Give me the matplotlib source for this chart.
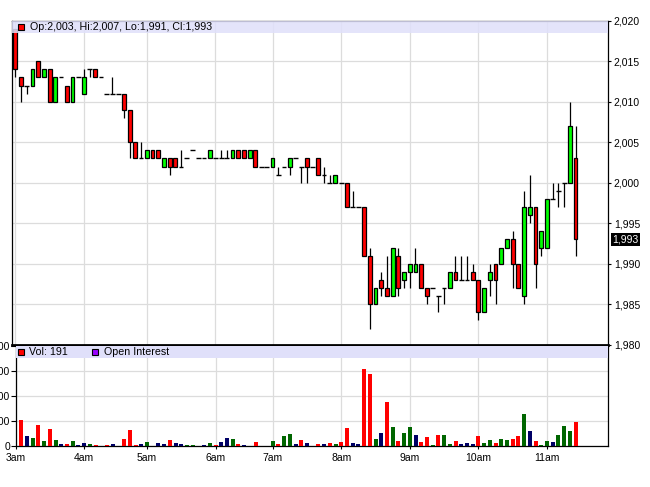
import matplotlib
matplotlib.use("Agg")
import matplotlib.pyplot as plt
from matplotlib.patches import Rectangle
from matplotlib.ticker import FuncFormatter

plt.rcParams['font.family'] = ['Liberation Sans', 'DejaVu Sans']

# 5 minute bars from 3am to 11:25am (a few slots have no trade)
opens = [2019, 2013, 2012, 2012, 2015, 2013, 2014, 2010, 2013, 2012,
         2010, 2013, 2011, 2014, 2014, 2013, 2011, 2011, 2011, 2011,
         2009, 2005, 2003, 2003, 2004, 2004, 2002, 2003, 2003, 2002,
         2003, 2004, 2003, 2003, 2003, 2003, 2003, 2003, 2003, 2004,
         2004, 2003, 2004, 2002, 2002, 2002, 2001, 2002, 2002, 2003,
         2002, 2003, 2002, 2003, 2001, 2000, 2000, 2000, 2000, 1997,
         1997, 1997, 1991, 1985, 1988, 1987, 1986, 1991, 1988, 1989,
         1989, 1990, 1987, 1987, 1986, 1987, 1987, 1989, 1988, 1988,
         1989, 1988, 1984, 1988, 1990, 1990, 1992, 1993, 1990, 1986,
         1996, 1997, 1992, 1992, 1998, 1999, 2000, 2000, 2003]
highs = [2019, 2013, 2012, 2014, 2015, 2014, 2014, 2013, 2013, 2012,
         2013, 2013, 2014, 2014, 2014, 2013, 2011, 2013, 2011, 2011,
         2009, 2005, 2005, 2004, 2004, 2004, 2003, 2003, 2003, 2004,
         2003, 2004, 2003, 2003, 2004, 2003, 2004, 2004, 2004, 2004,
         2004, 2004, 2004, 2002, 2002, 2003, 2002, 2002, 2003, 2003,
         2002, 2003, 2002, 2003, 2002, 2001, 2001, 2000, 2000, 1999,
         1997, 1997, 1992, 1987, 1989, 1991, 1992, 1992, 1989, 1990,
         1992, 1990, 1987, 1987, 1986, 1987, 1989, 1991, 1991, 1991,
         1990, 1988, 1987, 1990, 1990, 1992, 1993, 1994, 1990, 1999,
         2001, 1997, 1994, 1998, 2000, 2000, 2000, 2010, 2007]
lows = [2013, 2010, 2011, 2012, 2013, 2013, 2010, 2010, 2013, 2010,
        2010, 2013, 2011, 2013, 2013, 2013, 2011, 2011, 2011, 2008,
        2003, 2003, 2003, 2003, 2003, 2003, 2002, 2001, 2002, 2002,
        2003, 2004, 2003, 2003, 2003, 2003, 2003, 2003, 2003, 2003,
        2003, 2003, 2002, 2002, 2002, 2002, 2001, 2002, 2001, 2003,
        2000, 2000, 2002, 2001, 2000, 2000, 2000, 2000, 1997, 1997,
        1997, 1991, 1982, 1985, 1986, 1986, 1986, 1986, 1987, 1987,
        1989, 1987, 1985, 1987, 1984, 1985, 1987, 1988, 1988, 1988,
        1988, 1983, 1984, 1986, 1985, 1990, 1992, 1987, 1987, 1985,
        1995, 1987, 1991, 1992, 1998, 1997, 1997, 2000, 1991]
closes = [2014, 2012, 2012, 2014, 2013, 2014, 2010, 2013, 2013, 2010,
          2013, 2013, 2013, 2014, 2013, 2013, 2011, 2011, 2011, 2009,
          2005, 2003, 2003, 2004, 2003, 2003, 2003, 2002, 2002, 2002,
          2003, 2004, 2003, 2003, 2004, 2003, 2003, 2003, 2004, 2003,
          2003, 2004, 2002, 2002, 2002, 2003, 2001, 2002, 2003, 2003,
          2002, 2002, 2002, 2001, 2001, 2000, 2001, 2000, 1997, 1997,
          1997, 1991, 1985, 1987, 1987, 1986, 1992, 1987, 1989, 1990,
          1990, 1987, 1986, 1987, 1986, 1987, 1989, 1988, 1988, 1988,
          1988, 1984, 1987, 1989, 1988, 1992, 1993, 1990, 1987, 1997,
          1997, 1990, 1994, 1998, 1998, 1999, 2000, 2007, 1993]
volume = [0, 213, 79, 63, 166, 39, 134, 47, 16, 16,
          39, 8, 24, 16, 8, 0, 8, 16, 0, 58,
          129, 8, 16, 32, 0, 24, 16, 50, 24, 16,
          8, 8, 0, 8, 24, 8, 32, 63, 55, 16,
          8, 0, 32, 0, 0, 39, 16, 79, 95, 16,
          47, 24, 0, 16, 16, 26, 19, 35, 147, 27,
          19, 619, 579, 59, 107, 355, 155, 43, 107, 155,
          91, 35, 75, 11, 91, 91, 19, 43, 19, 27,
          16, 79, 24, 47, 24, 55, 47, 55, 79, 260,
          126, 39, 8, 39, 32, 87, 158, 121, 191]

hour_slots = [0, 12, 23, 35, 45, 57, 69, 81, 93]
hour_labels = ['3am', '4am', '5am', '6am', '7am', '8am', '9am', '10am', '11am']
price_ticks = [1980, 1985, 1990, 1995, 2000, 2005, 2010, 2015, 2020]
vol_ticks = [0, 200, 400, 600, 800]

UP, DOWN = '#00ff00', '#ff0000'
GRID = '#dcdcdc'
BAND = '#e0e0fa'
W, H = 650, 487


def px_box(x0, y0, x1, y1):
    # figure rectangle from pixel corners (y measured from the top)
    return [x0 / W, 1 - y1 / H, (x1 - x0) / W, (y1 - y0) / H]


fig = plt.figure(figsize=(6.5, 4.87), dpi=100)
ax = fig.add_axes(px_box(12.3, 20.7, 608.3, 344.8))
axv = fig.add_axes(px_box(15.6, 346.0, 608.3, 446.3))

n = len(closes)
xs = list(range(n))

# ---- price panel ----
ax.vlines(xs, lows, highs, color='k', lw=0.9, zorder=2)
body_x, body_b, body_h, body_c = [], [], [], []
for i in xs:
    o, c = opens[i], closes[i]
    if o == c:
        ax.hlines(o, i - 0.42, i + 0.42, color='k', lw=1.0, zorder=3)
    else:
        body_x.append(i)
        body_b.append(min(o, c))
        body_h.append(abs(c - o))
        body_c.append(UP if c > o else DOWN)
ax.bar(body_x, body_h, bottom=body_b, width=0.68, color=body_c,
       edgecolor='k', linewidth=0.9, zorder=3)

ax.set_xlim(-0.525, 103.73)
ax.set_ylim(1980, 2020)
ax.set_xticks(hour_slots)
ax.tick_params(axis='x', length=0, labelbottom=False)
ax.set_yticks(price_ticks)
ax.yaxis.tick_right()
ax.yaxis.set_major_formatter(FuncFormatter(lambda v, p: f"{int(v):,}"))
ax.tick_params(axis='y', length=2.4, width=0.8, pad=1.5, labelsize=7.5)
ax.grid(True, color=GRID, lw=0.9)
ax.set_axisbelow(True)
for side in ['left', 'top', 'right']:
    ax.spines[side].set_linewidth(0.9)
ax.spines['bottom'].set_linewidth(2.0)

band_h = 12.6 / 324.1
ax.add_patch(Rectangle((0, 1 - band_h), 1, band_h, transform=ax.transAxes,
                       facecolor=BAND, edgecolor='none', alpha=0.85, zorder=4))
ax.plot([0.0143], [1 - band_h / 2], marker='s', ms=5, mfc=DOWN, mec='k',
        mew=0.8, transform=ax.transAxes, zorder=5, clip_on=False)
ohlc_text = (f"Op:{opens[-1]:,}, Hi:{highs[-1]:,}, "
             f"Lo:{lows[-1]:,}, Cl:{closes[-1]:,}")
ax.text(0.0297, 1 - band_h / 2, ohlc_text, transform=ax.transAxes,
        ha='left', va='center', fontsize=7.7, zorder=5)

ax.annotate(f"{closes[-1]:,}", xy=(1, closes[-1]),
            xycoords=('axes fraction', 'data'), xytext=(3, 0),
            textcoords='offset points', ha='left', va='center',
            color='white', fontsize=7.5,
            bbox=dict(boxstyle='square,pad=0.12', fc='black', ec='none'))

# ---- volume panel ----
vol_c = [DOWN]
for i in range(1, n):
    if closes[i] > closes[i - 1]:
        vol_c.append('#006600')
    elif closes[i] < closes[i - 1]:
        vol_c.append(DOWN)
    else:
        vol_c.append('#000066')
axv.bar(xs, volume, width=0.7, color=vol_c, zorder=3)

axv.set_xlim(0.05, 103.73)
axv.set_ylim(0, 800)
axv.set_xticks(hour_slots)
axv.set_xticklabels(hour_labels)
axv.set_yticks(vol_ticks)
axv.tick_params(axis='x', length=2, width=0.8, pad=3, labelsize=7.5)
axv.tick_params(axis='y', length=3.6, width=0.8, pad=0.5, labelsize=7.5)
axv.grid(True, color=GRID, lw=0.9)
axv.set_axisbelow(True)
axv.spines['top'].set_visible(False)
for side in ['left', 'bottom', 'right']:
    axv.spines[side].set_linewidth(0.9)

vband = 12.3 / 100.3
axv.add_patch(Rectangle((0, 1 - vband), 1, vband, transform=axv.transAxes,
                        facecolor=BAND, edgecolor='none', zorder=4))
axv.plot([0.0088], [1 - vband / 2], marker='s', ms=5, mfc=DOWN, mec='k',
         mew=0.8, transform=axv.transAxes, zorder=5, clip_on=False)
axv.text(0.0226, 1 - vband / 2, f"Vol: {volume[-1]}", transform=axv.transAxes,
         ha='left', va='center', fontsize=7.7, zorder=5)
axv.plot([0.1348], [1 - vband / 2], marker='s', ms=5, mfc='#9900ff', mec='k',
         mew=0.8, transform=axv.transAxes, zorder=5, clip_on=False)
axv.text(0.149, 1 - vband / 2, "Open Interest", transform=axv.transAxes,
         ha='left', va='center', fontsize=7.7, zorder=5)

fig.savefig('out.png', dpi=100)
